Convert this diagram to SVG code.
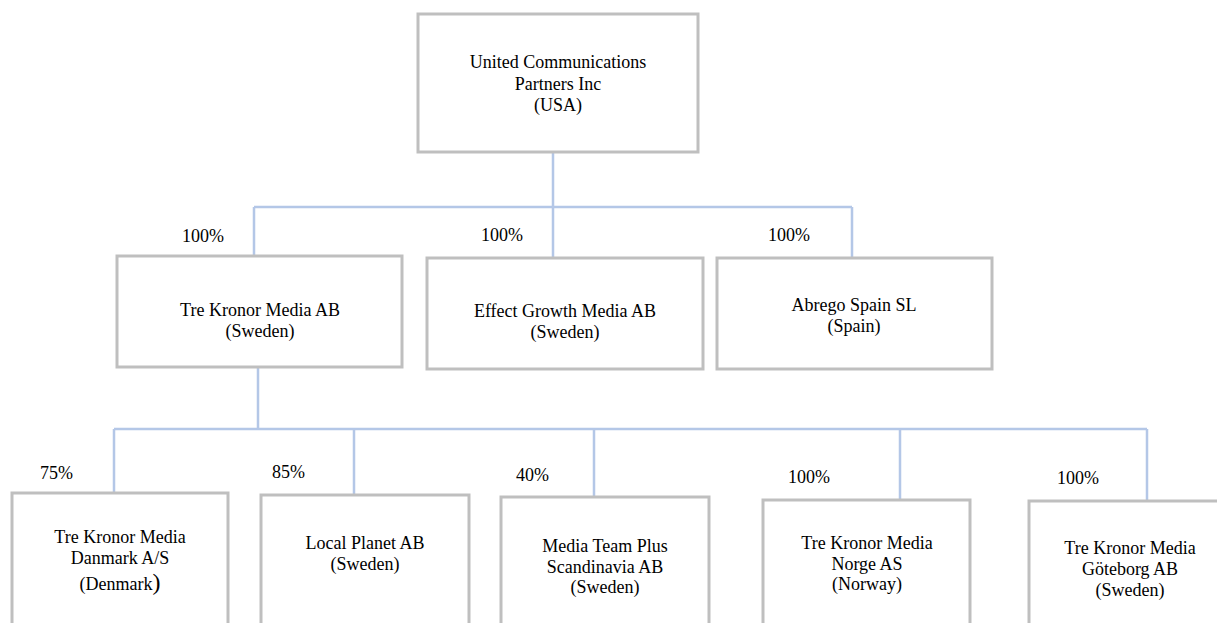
<svg xmlns="http://www.w3.org/2000/svg" width="1217" height="623" viewBox="0 0 1217 623">
<style>
.box{fill:#ffffff;stroke:#bfbfbf;stroke-width:3}
.con{fill:none;stroke:#b4c7e7;stroke-width:2.5}
text{font-family:"Liberation Serif","Times New Roman",serif;font-size:18px;fill:#000000}
.c{text-anchor:middle}
</style>
<rect width="1217" height="623" fill="#ffffff"/>
<g id="connectors">
<path class="con" d="M553 152 V207 M254 207 H852 M254 207 V257 M553 207 V258 M852 207 V259"/>
<path class="con" d="M258 367 V429 M114 429 H1147 M114 429 V493 M354 429 V495 M594 429 V497 M900 429 V500 M1147 429 V501"/>
</g>
<g id="labels">
<text x="182" y="242">100%</text>
<text x="481" y="241">100%</text>
<text x="768" y="241">100%</text>
<text x="40" y="479">75%</text>
<text x="272" y="478">85%</text>
<text x="516" y="481">40%</text>
<text x="788" y="483">100%</text>
<text x="1057" y="484">100%</text>
</g>
<g id="ucp">
<rect class="box" x="418" y="14" width="280" height="138"/>
<text class="c" x="558" y="68">United  Communications</text>
<text class="c" x="558" y="90">Partners Inc</text>
<text class="c" x="558" y="111">(USA)</text>
</g>
<g id="tkm">
<rect class="box" x="117" y="256" width="285" height="111"/>
<text class="c" x="260" y="316">Tre Kronor Media  AB</text>
<text class="c" x="260" y="337">(Sweden)</text>
</g>
<g id="egm">
<rect class="box" x="427" y="258" width="276" height="111"/>
<text class="c" x="565" y="317">Effect Growth Media AB</text>
<text class="c" x="565" y="338">(Sweden)</text>
</g>
<g id="abrego">
<rect class="box" x="717" y="258" width="275" height="111"/>
<text class="c" x="854" y="311">Abrego Spain  SL</text>
<text class="c" x="854" y="332">(Spain)</text>
</g>
<g id="dk">
<rect class="box" x="12" y="493" width="216" height="150"/>
<text class="c" x="120" y="543">Tre Kronor Media</text>
<text class="c" x="120" y="564">Danmark A/S</text>
<text class="c" x="120" y="590">(Denmark<tspan font-size="24">)</tspan></text>
</g>
<g id="lp">
<rect class="box" x="261" y="495" width="208" height="150"/>
<text class="c" x="365" y="549">Local Planet  AB</text>
<text class="c" x="365" y="570">(Sweden)</text>
</g>
<g id="mtp">
<rect class="box" x="501" y="497" width="208" height="150"/>
<text class="c" x="605" y="552">Media  Team Plus</text>
<text class="c" x="605" y="573">Scandinavia  AB</text>
<text class="c" x="605" y="593">(Sweden)</text>
</g>
<g id="no">
<rect class="box" x="763" y="500" width="207" height="150"/>
<text class="c" x="867" y="549">Tre Kronor Media</text>
<text class="c" x="867" y="570">Norge AS</text>
<text class="c" x="867" y="590">(Norway)</text>
</g>
<g id="gbg">
<rect class="box" x="1029" y="501" width="220" height="150"/>
<text class="c" x="1130" y="554">Tre Kronor Media</text>
<text class="c" x="1130" y="575">Göteborg AB</text>
<text class="c" x="1130" y="596">(Sweden)</text>
</g>
</svg>
